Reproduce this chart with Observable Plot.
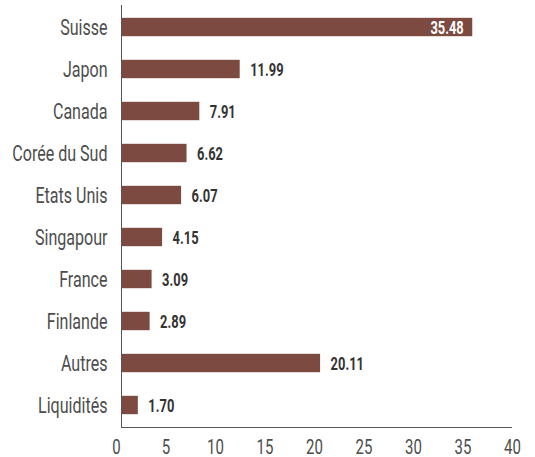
<!DOCTYPE html>
<html>
<head>
<meta charset="utf-8">
<script src="https://cdn.jsdelivr.net/npm/d3@7"></script>
<script src="https://cdn.jsdelivr.net/npm/@observablehq/plot@0.6"></script>
<style>
  html, body { margin: 0; padding: 0; background: #fff; }
  #chart svg { display: block; }
</style>
</head>
<body>
<div id="chart"></div>
<script>
const categories = ["Suisse", "Japon", "Canada", "Corée du Sud", "Etats Unis", "Singapour", "France", "Finlande", "Autres", "Liquidités"];
const values = [35.48, 11.99, 7.91, 6.62, 6.07, 4.15, 3.09, 2.89, 20.11, 1.70];
const xTicks = [0, 5, 10, 15, 20, 25, 30, 35, 40];

const data = categories.map((c, i) => ({cat: c, value: values[i], label: values[i].toFixed(2)}));
const FONT = "Roboto, 'DejaVu Sans', sans-serif";

const chart = Plot.plot({
  width: 535,
  height: 457,
  marginTop: 5,
  marginBottom: 30,
  marginLeft: 121,
  marginRight: 18,
  style: {fontFamily: FONT, background: "#fff"},
  x: {domain: [0, 40], ticks: xTicks, label: null},
  y: {domain: categories, padding: 0, label: null},
  marks: [
    Plot.barX(data, {x: "value", y: "cat", fill: "#7d4a41", insetTop: 11.8, insetBottom: 11.8}),
    Plot.text(data.filter(d => d.value < 30), {x: "value", y: "cat", text: "label", textAnchor: "start", dx: 10, fontWeight: "bold", fontSize: 19, fill: "#333", className: "vlab"}),
    Plot.text(data.filter(d => d.value >= 30), {x: "value", y: "cat", text: "label", textAnchor: "end", dx: -9, fontWeight: "bold", fontSize: 19, fill: "#fff", className: "vlab"}),
    Plot.axisX({tickSize: 0, tickPadding: 12, dx: -5, fontSize: 20, color: "#4d4d4d", ticks: xTicks, label: null, className: "xlab"}),
    Plot.axisY({tickSize: 0, tickPadding: 14, fontSize: 22, color: "#4d4d4d", label: null, className: "ylab"}),
    Plot.frame({anchor: "bottom", stroke: "#555", insetRight: 6}),
    Plot.ruleX([0], {stroke: "#555"})
  ]
});

// Horizontally condense text around each label's anchor point (narrow typeface look).
// Only horizontal offsets are moved into the transform; vertical (em-based) ones stay.
function condense(selector, s) {
  chart.querySelectorAll(selector).forEach(t => {
    const xa = t.getAttribute("x");
    const dxa = t.getAttribute("dx");
    let x = 0;
    if (xa && !/em/.test(xa)) { x += parseFloat(xa) || 0; t.removeAttribute("x"); }
    if (dxa && !/em/.test(dxa)) { x += parseFloat(dxa) || 0; t.removeAttribute("dx"); }
    const tr = t.getAttribute("transform") || "";
    t.setAttribute("transform", `${tr} translate(${x},0) scale(${s},1)`);
  });
}
condense(".ylab text", 0.73);
condense(".xlab text", 0.75);
condense(".vlab text", 0.68);

document.getElementById("chart").appendChild(chart);
</script>
</body>
</html>
